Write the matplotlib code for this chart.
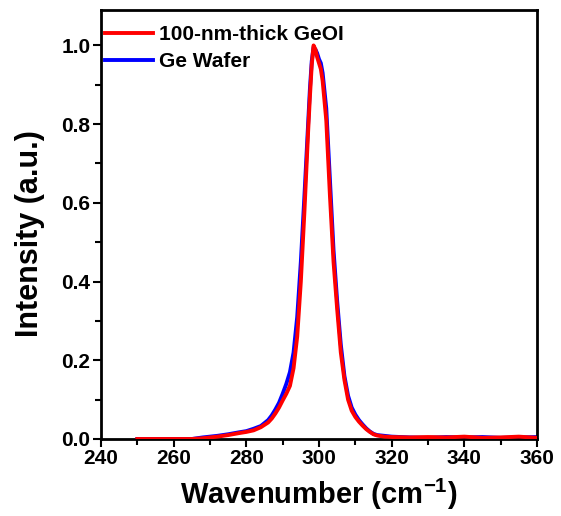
import matplotlib
matplotlib.use("Agg")
import matplotlib.pyplot as plt
from matplotlib.ticker import MultipleLocator, FormatStrFormatter

plt.rcParams['font.family'] = ['Liberation Sans', 'DejaVu Sans']
plt.rcParams['font.weight'] = 'bold'
plt.rcParams['mathtext.fontset'] = 'custom'
plt.rcParams['mathtext.bf'] = 'Liberation Sans:bold'
plt.rcParams['mathtext.rm'] = 'Liberation Sans:bold'
plt.rcParams['mathtext.default'] = 'bf'

wavenumber = [250, 255, 260, 265, 268, 270, 272, 275, 278, 280, 282, 284, 286, 287, 288, 289,
              290, 291, 292, 293, 294, 295, 296, 297, 297.5, 298, 298.5, 299, 299.5, 300,
              300.5, 301, 302, 303, 304, 305, 306, 307, 308, 309, 310, 311, 312, 313, 314,
              315, 316, 318, 320, 325, 330, 335, 340, 345, 350, 355, 360]

geoi = [0.0, 0.0, 0.0, 0.0, 0.002, 0.004, 0.006, 0.010, 0.015, 0.018, 0.022, 0.030, 0.042, 0.052,
        0.065, 0.080, 0.098, 0.115, 0.135, 0.18, 0.26, 0.40, 0.58, 0.78, 0.87, 0.95, 1.0, 0.99,
        0.97, 0.955, 0.94, 0.91, 0.81, 0.62, 0.45, 0.33, 0.22, 0.15, 0.10, 0.072, 0.056, 0.044,
        0.034, 0.025, 0.018, 0.012, 0.009, 0.006, 0.005, 0.004, 0.005, 0.004, 0.006, 0.003,
        0.004, 0.006, 0.003]

wafer = [0.0, 0.0, 0.0, 0.0, 0.004, 0.006, 0.008, 0.012, 0.017, 0.020, 0.026, 0.033, 0.048, 0.060,
         0.075, 0.092, 0.115, 0.14, 0.17, 0.22, 0.31, 0.45, 0.62, 0.80, 0.89, 0.96, 0.995, 0.99,
         0.98, 0.965, 0.955, 0.93, 0.84, 0.66, 0.48, 0.35, 0.24, 0.16, 0.11, 0.08, 0.062, 0.048,
         0.037, 0.027, 0.019, 0.013, 0.010, 0.008, 0.006, 0.004, 0.003, 0.005, 0.004, 0.005,
         0.003, 0.004, 0.005]

fig = plt.figure(figsize=(5.61, 5.16), dpi=100)
ax = fig.add_axes([101/561, 1-439/516, 436/561, 429/516])

ax.plot(wavenumber, wafer, color='#0000ff', lw=2.8, label='Ge Wafer', zorder=2)
ax.plot(wavenumber, geoi, color='#ff0000', lw=2.8, label='100-nm-thick GeOI', zorder=3)

ax.set_xlim(240, 360)
ax.set_ylim(0, 1.09)
ax.xaxis.set_major_locator(MultipleLocator(20))
ax.xaxis.set_minor_locator(MultipleLocator(10))
ax.yaxis.set_major_locator(MultipleLocator(0.2))
ax.yaxis.set_minor_locator(MultipleLocator(0.1))
ax.yaxis.set_major_formatter(FormatStrFormatter('%.1f'))
ax.tick_params(which='major', direction='out', length=6, width=1.5, labelsize=15, pad=1.5)
ax.tick_params(which='minor', direction='out', length=4, width=1.5)
for s in ax.spines.values():
    s.set_linewidth(2)

ax.set_xlabel('Wavenumber (cm$^{-1}$)', fontsize=21, fontweight='bold', labelpad=6)
ax.set_ylabel('Intensity (a.u.)', fontsize=22, fontweight='bold')
ax.yaxis.set_label_coords(-0.128, 0.478)

handles, labels = ax.get_legend_handles_labels()
leg = ax.legend(handles[::-1], labels[::-1], loc='upper left', bbox_to_anchor=(0.004, 0.970),
                frameon=False, fontsize=15, handlelength=2.3, handletextpad=0.3,
                borderaxespad=0.0, borderpad=0.1, labelspacing=0.4)

fig.savefig('out.png', dpi=100)
